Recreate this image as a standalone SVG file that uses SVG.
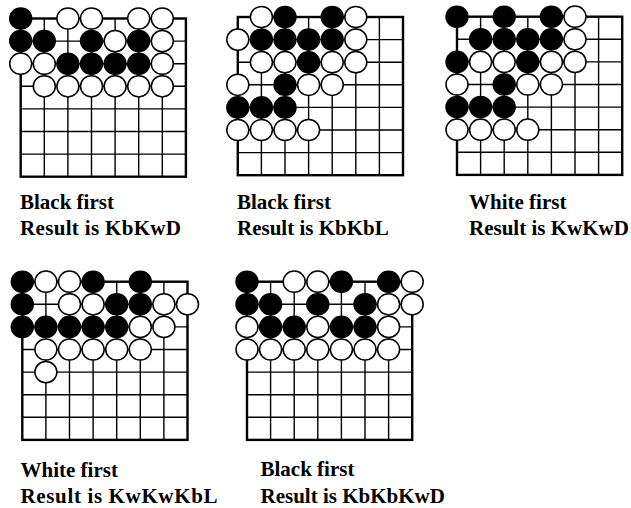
<svg xmlns="http://www.w3.org/2000/svg" width="631" height="508" viewBox="0 0 631 508">
<style>
.inner{fill:none;stroke:#000;stroke-width:1.4}
.border{fill:none;stroke:#000;stroke-width:2.4}
.bs{fill:#000;stroke:#000;stroke-width:1.4}
.ws{fill:#fff;stroke:#000;stroke-width:1.5}
</style>
<defs>
<g id="grid">
<path class="inner" d="M23.6,0V158.2M47.2,0V158.2M70.8,0V158.2M94.4,0V158.2M118,0V158.2M141.6,0V158.2M0,22.6H165.2M0,45.2H165.2M0,67.8H165.2M0,90.4H165.2M0,113H165.2M0,135.6H165.2"/>
<rect class="border" x="0" y="0" width="165.2" height="158.2"/>
</g>
<ellipse id="b" class="bs" rx="11" ry="10.6"/>
<ellipse id="w" class="ws" rx="11" ry="10.6"/>
</defs>

<g id="board1" transform="translate(20.7,18.5)">
<use href="#grid"/>
<use href="#b" x="0" y="0"/><use href="#w" x="47.2" y="0"/><use href="#w" x="70.8" y="0"/><use href="#w" x="118" y="0"/><use href="#w" x="141.6" y="0"/>
<use href="#b" x="0" y="22.6"/><use href="#b" x="23.6" y="22.6"/><use href="#b" x="70.8" y="22.6"/><use href="#w" x="94.4" y="22.6"/><use href="#b" x="118" y="22.6"/><use href="#w" x="141.6" y="22.6"/>
<use href="#w" x="0" y="45.2"/><use href="#w" x="23.6" y="45.2"/><use href="#b" x="47.2" y="45.2"/><use href="#b" x="70.8" y="45.2"/><use href="#b" x="94.4" y="45.2"/><use href="#b" x="118" y="45.2"/><use href="#w" x="141.6" y="45.2"/>
<use href="#w" x="23.6" y="67.8"/><use href="#w" x="47.2" y="67.8"/><use href="#w" x="70.8" y="67.8"/><use href="#w" x="94.4" y="67.8"/><use href="#w" x="118" y="67.8"/><use href="#w" x="141.6" y="67.8"/>
</g>

<g id="board2" transform="translate(237.8,17)">
<use href="#grid"/>
<use href="#w" x="23.6" y="0"/><use href="#b" x="47.2" y="0"/><use href="#b" x="94.4" y="0"/><use href="#w" x="118" y="0"/>
<use href="#w" x="0" y="22.6"/><use href="#b" x="23.6" y="22.6"/><use href="#b" x="47.2" y="22.6"/><use href="#b" x="70.8" y="22.6"/><use href="#b" x="94.4" y="22.6"/><use href="#w" x="118" y="22.6"/>
<use href="#w" x="23.6" y="45.2"/><use href="#w" x="47.2" y="45.2"/><use href="#b" x="70.8" y="45.2"/><use href="#w" x="94.4" y="45.2"/><use href="#w" x="118" y="45.2"/>
<use href="#w" x="0" y="67.8"/><use href="#b" x="47.2" y="67.8"/><use href="#w" x="70.8" y="67.8"/><use href="#w" x="94.4" y="67.8"/>
<use href="#b" x="0" y="90.4"/><use href="#b" x="23.6" y="90.4"/><use href="#b" x="47.2" y="90.4"/>
<use href="#w" x="0" y="113"/><use href="#w" x="23.6" y="113"/><use href="#w" x="47.2" y="113"/><use href="#w" x="70.8" y="113"/>
</g>

<g id="board3" transform="translate(457,16.7)">
<use href="#grid"/>
<use href="#b" x="0" y="0"/><use href="#b" x="47.2" y="0"/><use href="#b" x="94.4" y="0"/><use href="#w" x="118" y="0"/>
<use href="#b" x="23.6" y="22.6"/><use href="#b" x="47.2" y="22.6"/><use href="#b" x="70.8" y="22.6"/><use href="#b" x="94.4" y="22.6"/><use href="#w" x="118" y="22.6"/>
<use href="#b" x="0" y="45.2"/><use href="#w" x="23.6" y="45.2"/><use href="#w" x="47.2" y="45.2"/><use href="#b" x="70.8" y="45.2"/><use href="#w" x="94.4" y="45.2"/><use href="#w" x="118" y="45.2"/>
<use href="#w" x="0" y="67.8"/><use href="#b" x="47.2" y="67.8"/><use href="#w" x="70.8" y="67.8"/><use href="#w" x="94.4" y="67.8"/>
<use href="#b" x="0" y="90.4"/><use href="#b" x="23.6" y="90.4"/><use href="#b" x="47.2" y="90.4"/>
<use href="#w" x="0" y="113"/><use href="#w" x="23.6" y="113"/><use href="#w" x="47.2" y="113"/><use href="#w" x="70.8" y="113"/>
</g>

<g id="board4" transform="translate(22.3,281.7)">
<use href="#grid"/>
<use href="#b" x="0" y="0"/><use href="#w" x="23.6" y="0"/><use href="#w" x="47.2" y="0"/><use href="#b" x="70.8" y="0"/><use href="#b" x="118" y="0"/>
<use href="#b" x="0" y="22.6"/><use href="#w" x="47.2" y="22.6"/><use href="#w" x="70.8" y="22.6"/><use href="#b" x="94.4" y="22.6"/><use href="#b" x="118" y="22.6"/><use href="#w" x="141.6" y="22.6"/><use href="#w" x="165.2" y="22.6"/>
<use href="#b" x="0" y="45.2"/><use href="#b" x="23.6" y="45.2"/><use href="#b" x="47.2" y="45.2"/><use href="#b" x="70.8" y="45.2"/><use href="#b" x="94.4" y="45.2"/><use href="#w" x="118" y="45.2"/><use href="#w" x="141.6" y="45.2"/>
<use href="#w" x="23.6" y="67.8"/><use href="#w" x="47.2" y="67.8"/><use href="#w" x="70.8" y="67.8"/><use href="#w" x="94.4" y="67.8"/><use href="#w" x="118" y="67.8"/>
<use href="#w" x="23.6" y="90.4"/>
</g>

<g id="board5" transform="translate(247,281.7)">
<use href="#grid"/>
<use href="#b" x="0" y="0"/><use href="#w" x="47.2" y="0"/><use href="#w" x="70.8" y="0"/><use href="#b" x="94.4" y="0"/><use href="#b" x="141.6" y="0"/><use href="#w" x="165.2" y="0"/>
<use href="#b" x="0" y="22.6"/><use href="#b" x="23.6" y="22.6"/><use href="#b" x="70.8" y="22.6"/><use href="#b" x="118" y="22.6"/><use href="#w" x="141.6" y="22.6"/><use href="#w" x="165.2" y="22.6"/>
<use href="#w" x="0" y="45.2"/><use href="#b" x="23.6" y="45.2"/><use href="#b" x="47.2" y="45.2"/><use href="#w" x="70.8" y="45.2"/><use href="#b" x="94.4" y="45.2"/><use href="#b" x="118" y="45.2"/><use href="#w" x="141.6" y="45.2"/>
<use href="#w" x="0" y="67.8"/><use href="#w" x="23.6" y="67.8"/><use href="#w" x="47.2" y="67.8"/><use href="#w" x="70.8" y="67.8"/><use href="#w" x="94.4" y="67.8"/><use href="#w" x="118" y="67.8"/><use href="#w" x="141.6" y="67.8"/>
</g>

<g id="labels" font-family="'Liberation Serif', 'DejaVu Serif', serif" font-weight="bold" font-size="21" fill="#000">
<text x="20" y="209">Black first</text>
<text x="20" y="235" textLength="161" lengthAdjust="spacing">Result is KbKwD</text>
<text x="237" y="209">Black first</text>
<text x="237" y="235">Result is KbKbL</text>
<text x="469" y="209">White first</text>
<text x="469" y="235">Result is KwKwD</text>
<text x="20.5" y="477">White first</text>
<text x="20.5" y="503" textLength="197" lengthAdjust="spacing">Result is KwKwKbL</text>
<text x="260.5" y="476">Black first</text>
<text x="260.5" y="503">Result is KbKbKwD</text>
</g>
</svg>
